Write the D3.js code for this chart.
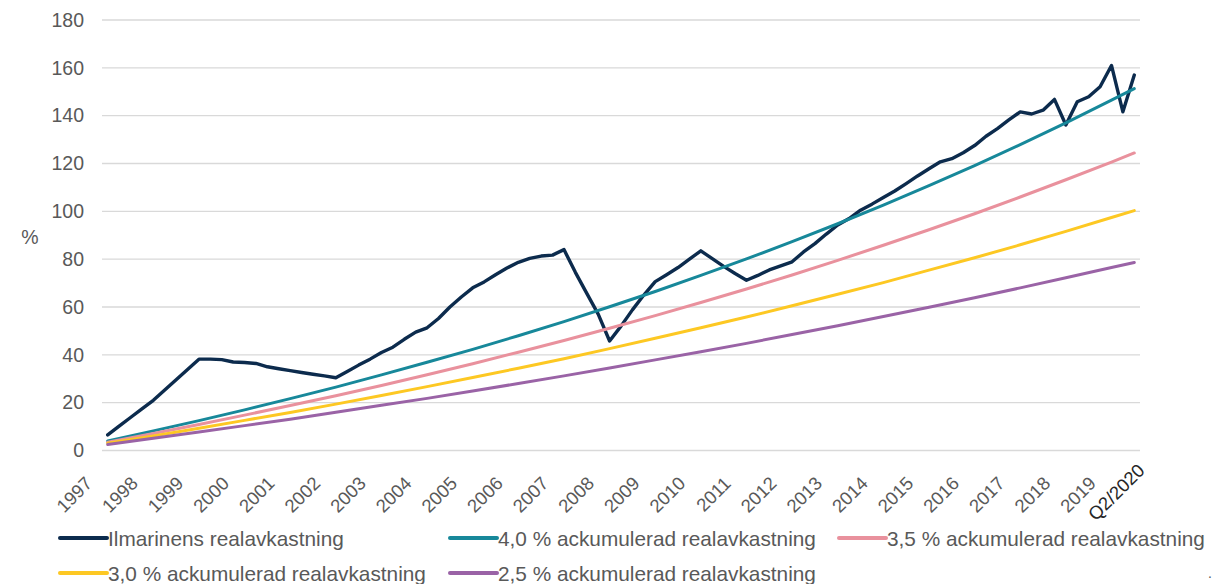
<!DOCTYPE html>
<html>
<head>
<meta charset="utf-8">
<script src="https://cdn.jsdelivr.net/npm/d3@7"></script>
<style>
  body { margin: 0; background: #fff; }
  svg { display: block; font-family: "Liberation Sans", Arial, sans-serif; }
</style>
</head>
<body>
<svg id="chart" width="1216" height="584"></svg>
<script>
// kvartalsdata, index 0 = 1997 ... index 90 = Q2/2020
const yearLabels = ['1997','1998','1999','2000','2001','2002','2003','2004','2005','2006','2007','2008',
  '2009','2010','2011','2012','2013','2014','2015','2016','2017','2018','2019','Q2/2020'];
const labelIdx = [0,4,8,12,16,20,24,28,32,36,40,44,48,52,56,60,64,68,72,76,80,84,88,90];
const yTicks = [0,20,40,60,80,100,120,140,160,180];

const ilmarinen = [
  6.5, 10.2, 13.8, 17.4, 21.0, 25.3, 29.6, 33.9, 38.2, 38.2,
  38.0, 37.0, 36.8, 36.4, 35.0, 34.2, 33.4, 32.6, 31.9, 31.2,
  30.4, 33.0, 35.7, 38.2, 41.0, 43.2, 46.5, 49.5, 51.3, 55.2,
  60.0, 64.2, 68.0, 70.5, 73.5, 76.3, 78.7, 80.3, 81.3, 81.7,
  84.0, 74.5, 65.7, 57.0, 45.8, 52.0, 58.8, 65.0, 70.6, 73.5,
  76.5, 80.0, 83.5, 80.2, 77.0, 74.0, 71.2, 73.2, 75.5, 77.2,
  78.9, 83.0, 86.5, 90.5, 94.3, 97.0, 100.5, 103.0, 105.8, 108.5,
  111.6, 114.8, 117.8, 120.7, 122.0, 124.5, 127.5, 131.4, 134.6, 138.2,
  141.6, 140.7, 142.3, 146.8, 136.1, 145.8, 147.9, 152.1, 161.0, 141.6,
  157.0
];
// jämförelselinjer, ett värde per år (samma index som labelIdx)
const acc40 = [4.0,8.2,12.5,17.0,21.7,26.5,31.6,36.9,42.3,48.0,53.9,60.1,66.5,73.2,80.1,87.3,94.8,102.6,110.7,119.1,127.9,137.0,146.5,151.3];
const acc35 = [3.5,7.1,10.9,14.8,18.8,22.9,27.2,31.7,36.3,41.1,46.0,51.1,56.4,61.9,67.5,73.4,79.5,85.8,92.3,99.0,106.0,113.2,120.6,124.4];
const acc30 = [3.0,6.1,9.3,12.6,15.9,19.4,23.0,26.7,30.5,34.4,38.4,42.6,46.9,51.3,55.8,60.5,65.3,70.2,75.4,80.6,86.0,91.6,97.4,100.3];
const acc25 = [2.5,5.1,7.7,10.4,13.1,16.0,18.9,21.8,24.9,28.0,31.2,34.5,37.9,41.3,44.8,48.5,52.2,56.0,59.9,63.9,68.0,72.2,76.5,78.6];

const seriesNames = ['Ilmarinens realavkastning','4,0 % ackumulerad realavkastning','3,5 % ackumulerad realavkastning',
  '3,0 % ackumulerad realavkastning','2,5 % ackumulerad realavkastning'];
const seriesColors = ['#0c2b4d','#17889a','#e9919d','#fdc823','#9a63a6'];

const svg = d3.select('#chart');
const x = d3.scaleLinear().domain([-0.5, 90.5]).range([102, 1140]);
const y = d3.scaleLinear().domain([0, 180]).range([450.5, 20]);

// rutnät
svg.append('g').selectAll('line').data(yTicks).join('line')
  .attr('x1', 102).attr('x2', 1140)
  .attr('y1', d => y(d)).attr('y2', d => y(d))
  .attr('stroke', '#d9d9d9').attr('stroke-width', 1.3);

// y-axel
const yAxis = svg.append('g').attr('transform', 'translate(84,0)')
  .call(d3.axisLeft(y).tickValues(yTicks).tickSize(0).tickPadding(0));
yAxis.select('.domain').remove();
yAxis.selectAll('text').attr('fill', '#595959').style('font-size', '19.5px')
  .style('font-family', '"Liberation Sans", Arial, sans-serif');

svg.append('text').attr('x', 30).attr('y', 237).attr('text-anchor', 'middle')
  .attr('dominant-baseline', 'central').attr('fill', '#595959').style('font-size', '19.5px').text('%');

// x-etiketter
svg.append('g').selectAll('text').data(yearLabels).join('text')
  .attr('transform', (d, i) => {
    const last = i === yearLabels.length - 1;
    const ax = x(labelIdx[i]) - 19 + (last ? 26 : 0);
    const ay = 480 - (last ? 13 : 0);
    return `translate(${ax},${ay}) rotate(-45)`;
  })
  .attr('text-anchor', 'end').attr('dominant-baseline', 'central')
  .attr('fill', (d, i) => i === yearLabels.length - 1 ? '#262626' : '#595959')
  .style('font-size', '18.5px')
  .text(d => d);

// linjer
const lineIlm = d3.line().x((d, i) => x(i)).y(d => y(d));
const lineAcc = d3.line().x((d, i) => x(labelIdx[i])).y(d => y(d));
const accSeries = [acc40, acc35, acc30, acc25];

svg.append('path').datum(ilmarinen)
  .attr('d', lineIlm).attr('fill', 'none')
  .attr('stroke', seriesColors[0]).attr('stroke-width', 3.4)
  .attr('stroke-linejoin', 'round').attr('stroke-linecap', 'round');

accSeries.forEach((s, k) => {
  svg.append('path').datum(s)
    .attr('d', lineAcc).attr('fill', 'none')
    .attr('stroke', seriesColors[k + 1]).attr('stroke-width', 3)
    .attr('stroke-linejoin', 'round').attr('stroke-linecap', 'round');
});

// legend
const legendPos = [[60, 538], [450, 538], [839, 538], [60, 573], [450, 573]];
const lg = svg.append('g').selectAll('g').data(seriesNames).join('g')
  .attr('transform', (d, i) => `translate(${legendPos[i][0]},${legendPos[i][1]})`);
lg.append('line').attr('x1', 0).attr('x2', 47)
  .attr('stroke', (d, i) => seriesColors[i]).attr('stroke-width', 4).attr('stroke-linecap', 'round');
lg.append('text').attr('x', 48).attr('dominant-baseline', 'central')
  .attr('fill', '#595959').style('font-size', '20.8px').text(d => d);

svg.append('text').attr('x', 1208).attr('y', 578).attr('fill', '#595959')
  .style('font-size', '14px').text('.');
</script>
</body>
</html>
